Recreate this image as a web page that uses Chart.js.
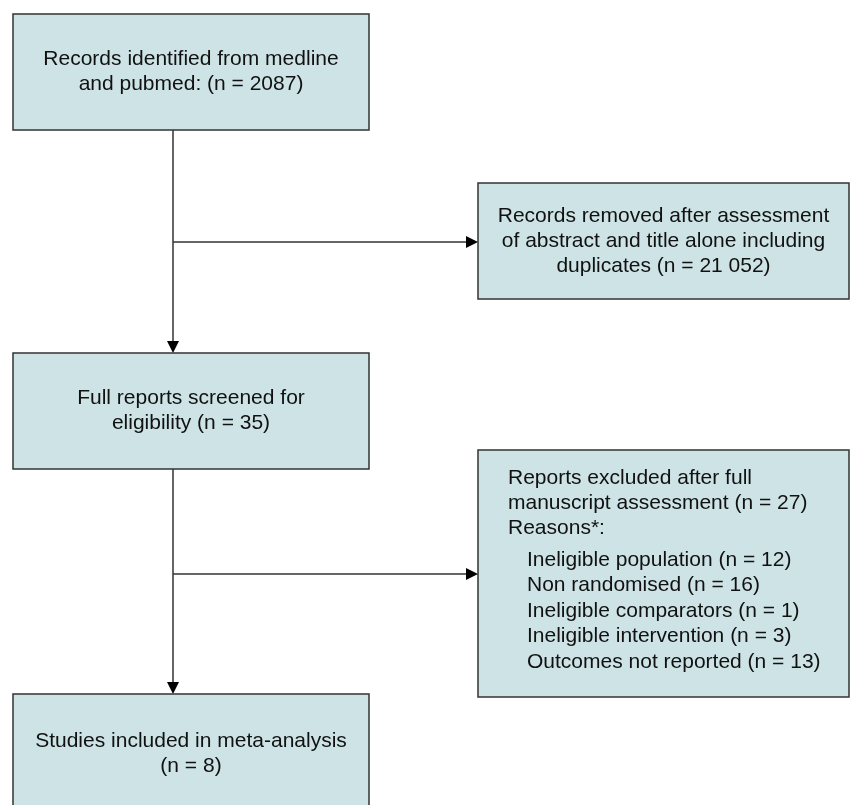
<!DOCTYPE html>
<html>
<head>
<meta charset="utf-8">
<script src="https://cdn.jsdelivr.net/npm/chart.js@4.4.0/dist/chart.umd.min.js"></script>
<style>
  html, body { margin: 0; padding: 0; background: #ffffff; }
  #wrap { width: 850px; height: 805px; }
</style>
</head>
<body>
<div id="wrap"><canvas id="flowChart" width="850" height="805"></canvas></div>
<script>
// PRISMA flow - counts
const recordsIdentified = 2087;
const recordsRemoved = '21 052';
const reportsScreened = 35;
const reportsExcluded = 27;
const studiesIncluded = 8;

const exclusionReasons = ['Ineligible population', 'Non randomised', 'Ineligible comparators', 'Ineligible intervention', 'Outcomes not reported'];
const exclusionCounts = [12, 16, 1, 3, 13];

// layout (in chart units = 850 x 805 space)
const boxRects = [
    [13, 14, 369, 130],
    [478, 183, 849, 299],
    [13, 353, 369, 469],
    [478, 450, 849, 697],
    [13, 694, 369, 812]
];
const boxLines = [
    ['Records identified from medline', `and pubmed: (n = ${recordsIdentified})`],
    ['Records removed after assessment', 'of abstract and title alone including', `duplicates (n = ${recordsRemoved})`],
    ['Full reports screened for', `eligibility (n = ${reportsScreened})`],
    null,
    ['Studies included in meta-analysis', `(n = ${studiesIncluded})`]
];
// connectors: [x1, y1, x2, y2, arrow]
const connectors = [
    [173, 130, 173, 353, true],
    [173, 242, 478, 242, true],
    [173, 469, 173, 694, true],
    [173, 574, 478, 574, true]
];

const FILL = '#cde3e6';
const EDGE = '#333333';
const TEXT = '#111111';
const FONT = '21px "Liberation Sans", Arial, sans-serif';
const LINE_H = 25;

function drawArrowHead(ctx, x, y, dir) {
    const len = 12, half = 6;
    ctx.beginPath();
    if (dir === 'down') {
        ctx.moveTo(x, y);
        ctx.lineTo(x - half, y - len);
        ctx.lineTo(x + half, y - len);
    } else {
        ctx.moveTo(x, y);
        ctx.lineTo(x - len, y - half);
        ctx.lineTo(x - len, y + half);
    }
    ctx.closePath();
    ctx.fill();
}

const flowPlugin = {
    id: 'flowPlugin',
    afterDatasetsDraw(chart) {
        const ctx = chart.ctx;
        const xs = chart.scales.x, ys = chart.scales.y;
        const px = v => xs.getPixelForValue(v);
        const py = v => ys.getPixelForValue(v);

        ctx.save();
        // connectors
        ctx.strokeStyle = EDGE;
        ctx.fillStyle = '#000000';
        ctx.lineWidth = 1.5;
        connectors.forEach(([x1, y1, x2, y2, arrow]) => {
            const ax = px(x2), ay = py(y2);
            const vertical = x1 === x2;
            ctx.beginPath();
            ctx.moveTo(px(x1), py(y1));
            ctx.lineTo(vertical ? ax : ax - 8, vertical ? ay - 8 : ay);
            ctx.stroke();
            if (arrow) drawArrowHead(ctx, ax, ay, vertical ? 'down' : 'right');
        });

        // boxes
        boxRects.forEach(([x0, y0, x1, y1], i) => {
            const l = px(x0), t = py(y0), r = px(x1), b = py(y1);
            ctx.fillStyle = FILL;
            ctx.fillRect(l, t, r - l, b - t);
            ctx.strokeStyle = EDGE;
            ctx.lineWidth = 1.5;
            ctx.strokeRect(l, t, r - l, b - t);

            ctx.fillStyle = TEXT;
            ctx.font = FONT;
            ctx.textBaseline = 'middle';
            const lines = boxLines[i];
            if (lines) {
                ctx.textAlign = 'center';
                const cx = (l + r) / 2;
                const cy = i === 4 ? py(754) : (t + b) / 2;
                const start = cy - (lines.length - 1) * LINE_H / 2;
                lines.forEach((s, k) => ctx.fillText(s, cx, start + k * LINE_H));
            }
        });

        // exclusion box with reasons
        ctx.fillStyle = TEXT;
        ctx.font = FONT;
        ctx.textAlign = 'left';
        ctx.textBaseline = 'middle';
        const head = ['Reports excluded after full', `manuscript assessment (n = ${reportsExcluded})`, 'Reasons*:'];
        head.forEach((s, k) => ctx.fillText(s, px(508), py(478 + k * LINE_H)));
        exclusionReasons.forEach((s, k) => {
            ctx.fillText(`${s} (n = ${exclusionCounts[k]})`, px(527), py(560 + k * 25.5));
        });
        ctx.restore();
    }
};

const ctx = document.getElementById('flowChart').getContext('2d');
const chartInstance = new Chart(ctx, {
    type: 'scatter',
    data: {
        datasets: [{
            label: 'flow',
            data: boxRects.map(([x0, y0, x1, y1]) => ({ x: (x0 + x1) / 2, y: (y0 + y1) / 2 })),
            pointRadius: 0,
            pointHoverRadius: 0
        }]
    },
    options: {
        responsive: false,
        animation: false,
        devicePixelRatio: 1,
        layout: { padding: 0 },
        scales: {
            x: { type: 'linear', min: 0, max: 850, display: false },
            y: { type: 'linear', min: 0, max: 805, reverse: true, display: false }
        },
        plugins: {
            legend: { display: false },
            tooltip: { enabled: false }
        }
    },
    plugins: [flowPlugin]
});
</script>
</body>
</html>
